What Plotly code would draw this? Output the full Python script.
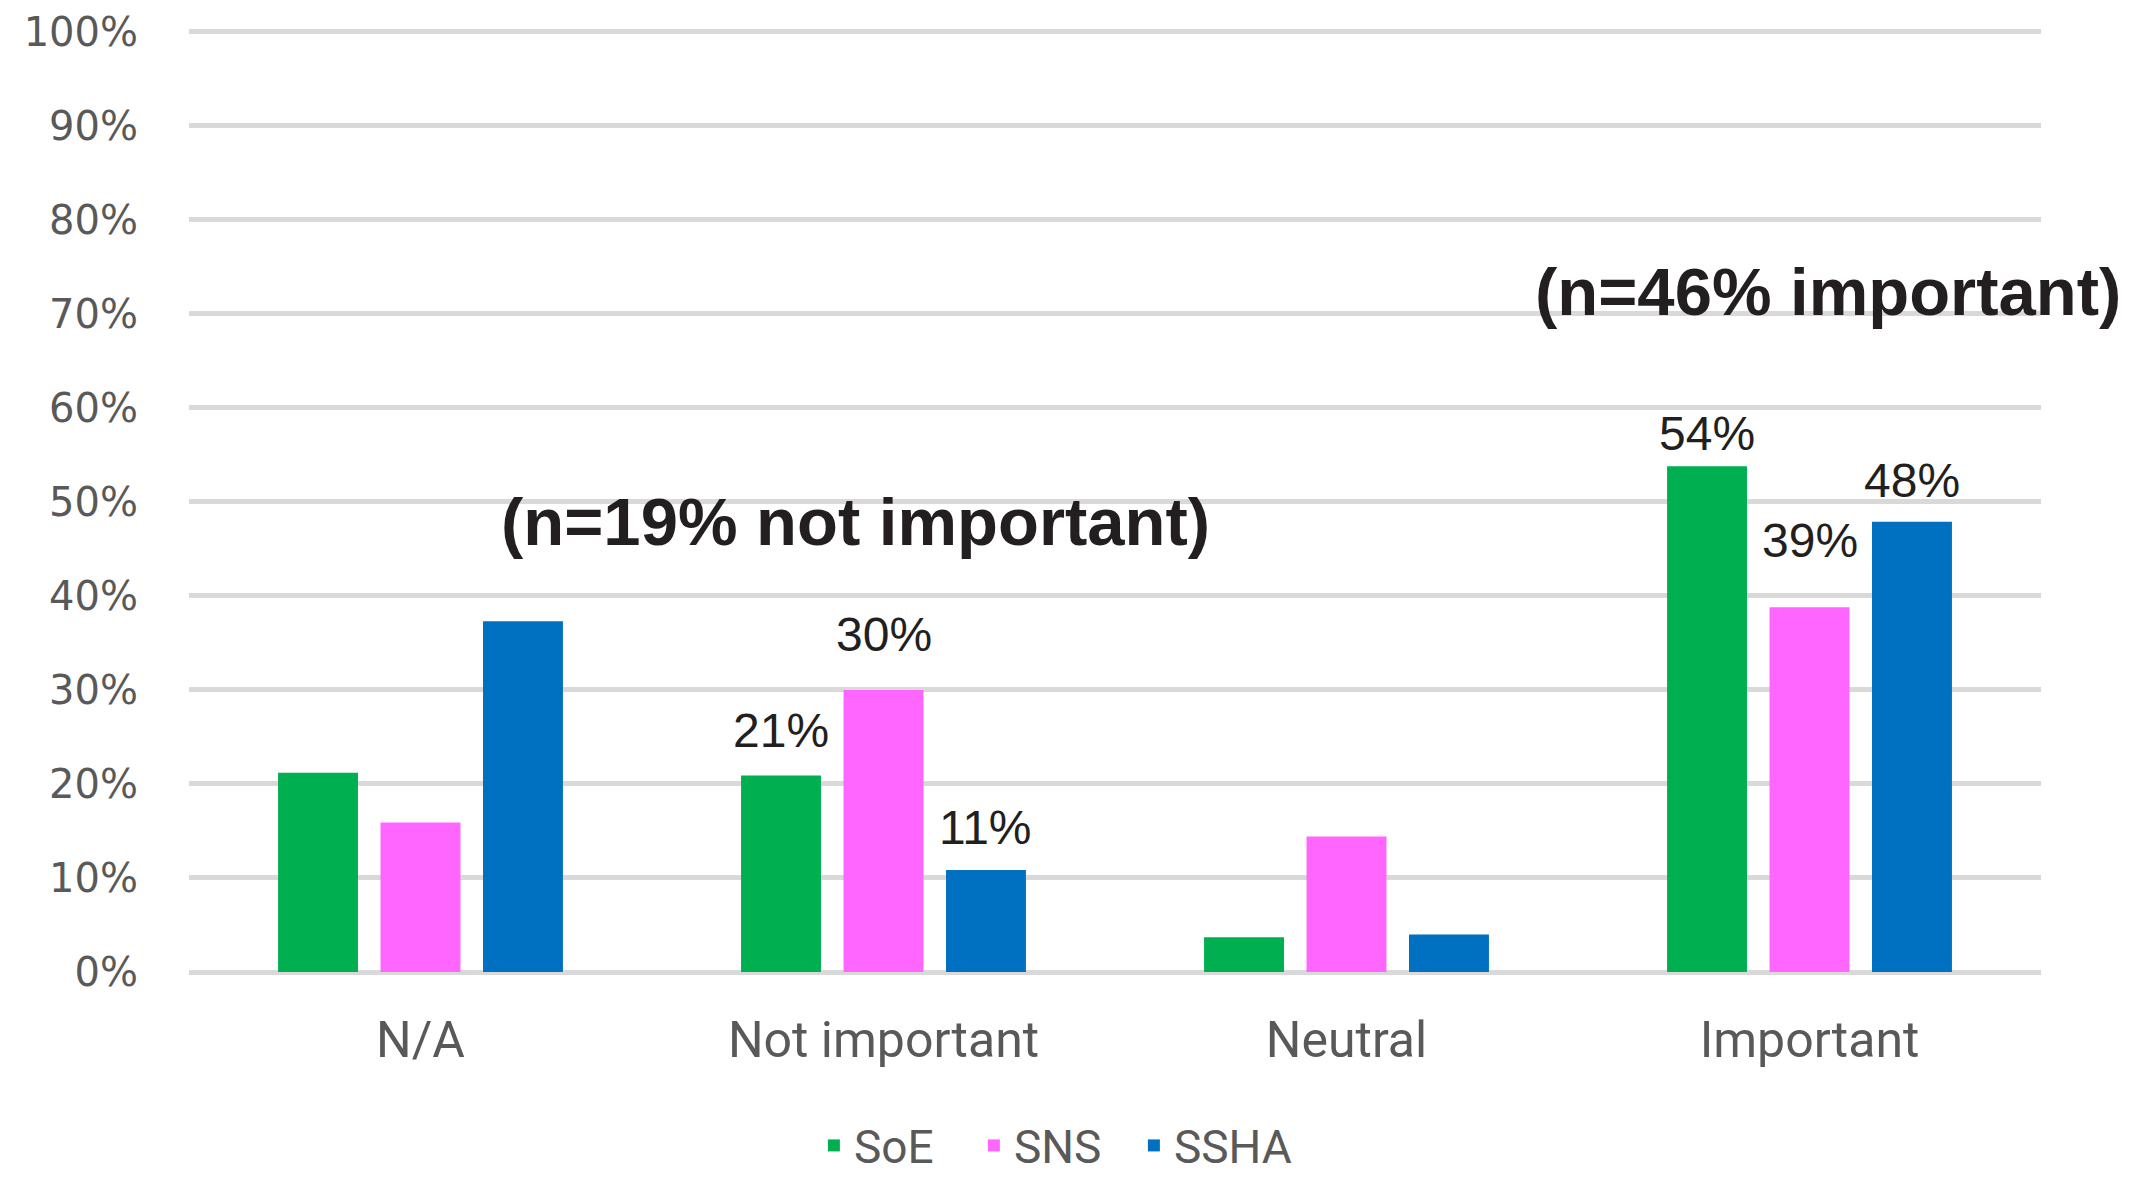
import plotly.graph_objects as go

categories = ["N/A", "Not important", "Neutral", "Important"]
soe = [21.2, 20.9, 3.7, 53.8]
sns = [15.9, 30.0, 14.4, 38.8]
ssha = [37.3, 10.85, 4.0, 47.9]
labelled = ["Not important", "Important"]
series_names = ["SoE", "SNS", "SSHA"]
colors = ["#00B050", "#FF66FF", "#0070C0"]
ytick_vals = list(range(0, 101, 10))
ytick_text = [f"{v}%" for v in ytick_vals]
notes = [
    ("(n=19% not important)", 0.94, 47.9),
    ("(n=46% important)", 3.04, 72.4),
]

# label placement (pixels above the bar top), per series, per labelled category
label_lift = {
    "SoE": {"Not important": 45, "Important": 33},
    "SNS": {"Not important": 55, "Important": 67},
    "SSHA": {"Not important": 42, "Important": 41},
}

BARGAP = 0.336
BARGROUPGAP = 0.22
n_series = len(series_names)
slot = (1 - BARGAP) / n_series

fig = go.Figure()
for i, (name, vals, col) in enumerate(zip(series_names, [soe, sns, ssha], colors)):
    fig.add_trace(go.Bar(
        x=categories, y=vals, name=name,
        marker=dict(color=col, line=dict(width=0)),
    ))
    for j, (c, v) in enumerate(zip(categories, vals)):
        if c in labelled:
            fig.add_annotation(
                x=j + (i - (n_series - 1) / 2) * slot, y=v, xref="x", yref="y",
                text=f"{v:.0f}%", showarrow=False,
                xanchor="center", yanchor="middle", yshift=label_lift[name][c],
                font=dict(family="Liberation Sans, Arial, sans-serif", size=48, color="#231F20"),
            )

for txt, xv, yv in notes:
    fig.add_annotation(
        x=xv, y=yv, xref="x", yref="y", text=f"<b>{txt}</b>", showarrow=False,
        font=dict(family="Liberation Sans, Arial, sans-serif", size=67, color="#231F20"),
        xanchor="center", yanchor="middle",
    )

fig.update_layout(
    width=2123, height=1171,
    margin=dict(l=181, r=90, t=21, b=207, autoexpand=False),
    paper_bgcolor="white", plot_bgcolor="white",
    barmode="group", bargap=BARGAP, bargroupgap=BARGROUPGAP,
    showlegend=True,
    legend=dict(
        orientation="h", x=0.467, xanchor="center", y=-0.184, yanchor="middle",
        font=dict(family="Roboto, sans-serif", size=46, color="#595959"),
        itemwidth=30, entrywidth=115, entrywidthmode="pixels",
    ),
)
fig.update_xaxes(
    range=[-0.5, 3.5], automargin=False,
    showgrid=False, showline=False, zeroline=False,
    tickfont=dict(family="Roboto, sans-serif", size=50, color="#595959"),
    ticks="", ticklabelstandoff=34,
)
fig.update_yaxes(
    range=[0, 100.3], automargin=False, tickvals=ytick_vals, ticktext=ytick_text,
    showgrid=True, gridcolor="#D9D9D9", gridwidth=5,
    zeroline=True, zerolinecolor="#D9D9D9", zerolinewidth=5,
    showline=False, ticks="",
    tickfont=dict(family="DejaVu Sans, sans-serif", size=40, color="#595959"),
    ticklabelstandoff=50,
)

fig.write_html("out.html")
